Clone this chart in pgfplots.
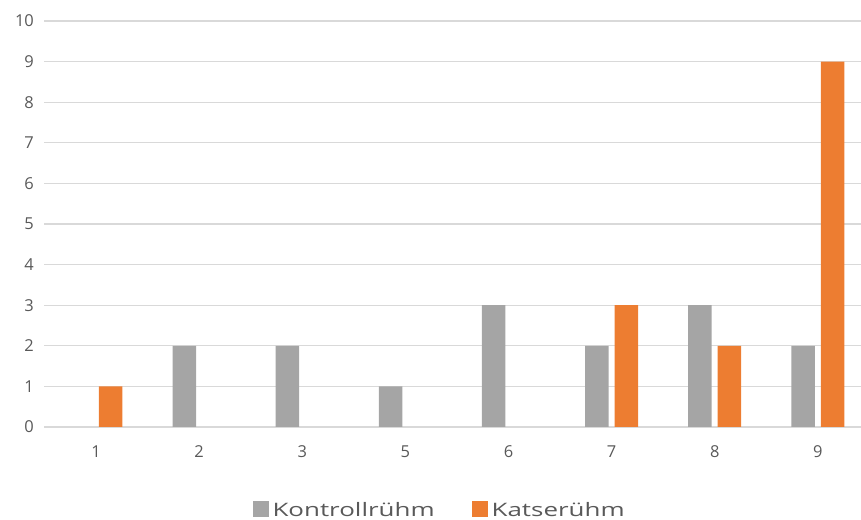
\documentclass[border=0pt]{standalone}
\usepackage{pgfplots}
\pgfplotsset{compat=1.18}
\usepackage{fontspec}
\setmainfont{Open Sans}
\newfontfamily\legfont[FakeStretch=1.4]{Open Sans}
\definecolor{cgray}{HTML}{A5A5A5}
\definecolor{corange}{HTML}{ED7D31}
\definecolor{cgrid}{HTML}{D9D9D9}
\definecolor{ctext}{HTML}{595959}
\begin{document}
\begin{tikzpicture}
\path[use as bounding box] (0,0) rectangle (861bp,520bp);
\begin{axis}[
  at={(44.4bp,93bp)}, anchor=south west,
  scale only axis, width=825bp, height=406bp,
  ybar=6bp, bar width=23.5bp,
  xmin=-0.5, xmax=7.5, ymin=0, ymax=10,
  xtick=data, xticklabels={1,2,3,5,6,7,8,9},
  ytick={0,...,10},
  ymajorgrids, grid style={cgrid, line width=1.2bp},
  axis line style={draw=none},
  major tick length=0pt,
  tick label style={font=\fontsize{16.5}{18}\selectfont, text=ctext},
  /pgf/number format/assume math mode=true,
  xticklabel style={yshift=-15bp},
  yticklabel style={xshift=-7bp},
  legend style={at={(0.479,-0.2044)}, anchor=center, draw=none,
    legend columns=2, font=\legfont\fontsize{18.6}{20}\selectfont, text=ctext,
    /tikz/every odd column/.append style={column sep=2bp},
    /tikz/every even column/.append style={column sep=35bp}},
  legend image code/.code={\fill[#1] (0bp,-7.5bp) rectangle (16bp,8.5bp);},
]
\addplot[fill=cgray, draw=none] coordinates {(0,0) (1,2) (2,2) (3,1) (4,3) (5,2) (6,3) (7,2)};
\addplot[fill=corange, draw=none] coordinates {(0,1) (1,0) (2,0) (3,0) (4,0) (5,3) (6,2) (7,9)};
\legend{Kontrollrühm, Katserühm}
\end{axis}
\end{tikzpicture}
\end{document}
